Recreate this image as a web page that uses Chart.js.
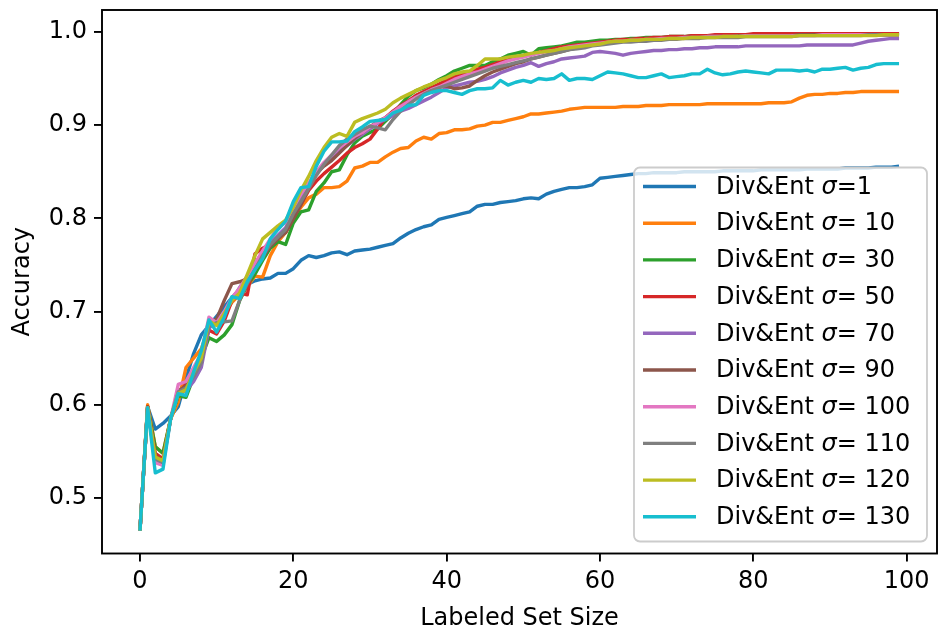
<!DOCTYPE html>
<html>
<head>
<meta charset="utf-8">
<script src="https://cdn.jsdelivr.net/npm/chart.js@4.4.1/dist/chart.umd.min.js"></script>
<style>
  html, body { margin: 0; padding: 0; background: #fff; }
  #wrap { width: 939px; height: 629px; }
</style>
</head>
<body>
<div id="wrap"><canvas id="accChart" width="939" height="629"></canvas></div>
<script>
// ===== Data =====
const setSizes = Array.from({ length: 100 }, (_, i) => i);
const xTicks = [0, 20, 40, 60, 80, 100];
const yTicks = [0.5, 0.6, 0.7, 0.8, 0.9, 1.0];

const seriesLabels = ['Div&Ent σ=1', 'Div&Ent σ= 10', 'Div&Ent σ= 30', 'Div&Ent σ= 50', 'Div&Ent σ= 70',
  'Div&Ent σ= 90', 'Div&Ent σ= 100', 'Div&Ent σ= 110', 'Div&Ent σ= 120', 'Div&Ent σ= 130'];

const sigma1 = [
  0.465, 0.598, 0.574, 0.580, 0.588, 0.598, 0.628, 0.655, 0.675, 0.685,
  0.695, 0.705, 0.715, 0.724, 0.729, 0.733, 0.735, 0.736, 0.741, 0.741,
  0.746, 0.755, 0.760, 0.758, 0.760, 0.763, 0.764, 0.761, 0.765, 0.766,
  0.767, 0.769, 0.771, 0.773, 0.779, 0.784, 0.788, 0.791, 0.793, 0.799,
  0.801, 0.803, 0.805, 0.807, 0.813, 0.815, 0.815, 0.817, 0.818, 0.819,
  0.821, 0.822, 0.821, 0.826, 0.829, 0.831, 0.833, 0.833, 0.834, 0.836,
  0.843, 0.844, 0.845, 0.846, 0.847, 0.848, 0.848, 0.849, 0.849, 0.849,
  0.849, 0.850, 0.850, 0.850, 0.850, 0.850, 0.851, 0.851, 0.851, 0.851,
  0.851, 0.852, 0.852, 0.852, 0.852, 0.852, 0.852, 0.853, 0.853, 0.853,
  0.853, 0.853, 0.854, 0.854, 0.854, 0.854, 0.855, 0.855, 0.855, 0.856
];
const sigma10 = [
  0.465, 0.600, 0.555, 0.548, 0.585, 0.603, 0.640, 0.650, 0.660, 0.683,
  0.688, 0.698, 0.710, 0.718, 0.727, 0.738, 0.737, 0.760, 0.775, 0.785,
  0.800, 0.812, 0.822, 0.826, 0.833, 0.833, 0.834, 0.840, 0.854, 0.856,
  0.860, 0.860, 0.866, 0.871, 0.875, 0.876, 0.883, 0.887, 0.885, 0.891,
  0.892, 0.895, 0.895, 0.896, 0.899, 0.900, 0.903, 0.903, 0.905, 0.907,
  0.909, 0.912, 0.912, 0.913, 0.914, 0.915, 0.917, 0.918, 0.919, 0.919,
  0.919, 0.919, 0.919, 0.920, 0.920, 0.920, 0.921, 0.921, 0.921, 0.922,
  0.922, 0.922, 0.922, 0.922, 0.923, 0.923, 0.923, 0.923, 0.923, 0.923,
  0.923, 0.923, 0.924, 0.924, 0.924, 0.925, 0.929, 0.932, 0.933, 0.933,
  0.934, 0.934, 0.935, 0.935, 0.936, 0.936, 0.936, 0.936, 0.936, 0.936
];
const sigma30 = [
  0.465, 0.598, 0.555, 0.548, 0.585, 0.610, 0.608, 0.630, 0.650, 0.672,
  0.668, 0.675, 0.686, 0.712, 0.728, 0.740, 0.755, 0.768, 0.775, 0.772,
  0.795, 0.807, 0.809, 0.829, 0.838, 0.850, 0.852, 0.868, 0.881, 0.888,
  0.892, 0.896, 0.904, 0.912, 0.922, 0.931, 0.937, 0.940, 0.944, 0.949,
  0.953, 0.958, 0.961, 0.964, 0.964, 0.964, 0.968, 0.971, 0.975, 0.977,
  0.979, 0.975, 0.982, 0.983, 0.984, 0.985, 0.987, 0.989, 0.989, 0.990,
  0.991, 0.991, 0.992, 0.992, 0.993, 0.993, 0.994, 0.994, 0.994, 0.995,
  0.995, 0.995, 0.996, 0.996, 0.996, 0.996, 0.997, 0.997, 0.997, 0.997,
  0.997, 0.997, 0.997, 0.997, 0.997, 0.997, 0.997, 0.998, 0.998, 0.998,
  0.998, 0.998, 0.998, 0.998, 0.998, 0.998, 0.998, 0.998, 0.998, 0.998
];
const sigma50 = [
  0.465, 0.598, 0.548, 0.542, 0.585, 0.612, 0.622, 0.638, 0.652, 0.680,
  0.676, 0.690, 0.712, 0.720, 0.718, 0.762, 0.768, 0.772, 0.780, 0.785,
  0.800, 0.815, 0.830, 0.840, 0.848, 0.855, 0.862, 0.870, 0.876, 0.880,
  0.885, 0.896, 0.908, 0.915, 0.921, 0.926, 0.932, 0.936, 0.940, 0.944,
  0.948, 0.952, 0.955, 0.957, 0.960, 0.962, 0.965, 0.968, 0.970, 0.972,
  0.974, 0.976, 0.978, 0.980, 0.982, 0.984, 0.985, 0.986, 0.987, 0.988,
  0.989, 0.990, 0.991, 0.992, 0.992, 0.993, 0.993, 0.994, 0.994, 0.995,
  0.995, 0.995, 0.996, 0.996, 0.996, 0.997, 0.997, 0.997, 0.997, 0.997,
  0.998, 0.998, 0.998, 0.998, 0.998, 0.998, 0.998, 0.998, 0.998, 0.998,
  0.998, 0.998, 0.998, 0.998, 0.998, 0.998, 0.998, 0.998, 0.998, 0.998
];
const sigma70 = [
  0.465, 0.596, 0.540, 0.537, 0.585, 0.612, 0.615, 0.625, 0.640, 0.682,
  0.690, 0.698, 0.712, 0.726, 0.738, 0.750, 0.764, 0.774, 0.782, 0.790,
  0.808, 0.822, 0.835, 0.848, 0.858, 0.866, 0.872, 0.878, 0.885, 0.890,
  0.896, 0.902, 0.906, 0.910, 0.915, 0.918, 0.922, 0.926, 0.930, 0.935,
  0.940, 0.942, 0.944, 0.946, 0.947, 0.949, 0.952, 0.956, 0.959, 0.962,
  0.964, 0.967, 0.963, 0.966, 0.968, 0.971, 0.972, 0.973, 0.974, 0.978,
  0.979, 0.978, 0.977, 0.975, 0.977, 0.978, 0.979, 0.980, 0.980, 0.981,
  0.981, 0.982, 0.982, 0.983, 0.983, 0.984, 0.984, 0.984, 0.984, 0.985,
  0.985, 0.985, 0.985, 0.985, 0.985, 0.985, 0.985, 0.986, 0.986, 0.986,
  0.986, 0.986, 0.986, 0.986, 0.988, 0.990, 0.991, 0.992, 0.993, 0.993
];
const sigma90 = [
  0.465, 0.597, 0.545, 0.540, 0.585, 0.615, 0.620, 0.632, 0.648, 0.688,
  0.692, 0.712, 0.730, 0.732, 0.735, 0.745, 0.758, 0.770, 0.778, 0.785,
  0.800, 0.815, 0.832, 0.848, 0.856, 0.862, 0.870, 0.878, 0.886, 0.892,
  0.898, 0.904, 0.908, 0.914, 0.920, 0.925, 0.930, 0.934, 0.938, 0.941,
  0.942, 0.939, 0.940, 0.942, 0.948, 0.953, 0.957, 0.960, 0.963, 0.966,
  0.968, 0.971, 0.973, 0.975, 0.977, 0.979, 0.981, 0.983, 0.985, 0.986,
  0.987, 0.988, 0.989, 0.990, 0.990, 0.991, 0.991, 0.992, 0.992, 0.993,
  0.993, 0.994, 0.994, 0.994, 0.995, 0.995, 0.995, 0.995, 0.996, 0.996,
  0.996, 0.996, 0.996, 0.996, 0.996, 0.996, 0.997, 0.997, 0.997, 0.997,
  0.997, 0.997, 0.997, 0.997, 0.997, 0.997, 0.997, 0.997, 0.997, 0.997
];
const sigma100 = [
  0.465, 0.597, 0.538, 0.535, 0.585, 0.622, 0.625, 0.640, 0.655, 0.694,
  0.688, 0.700, 0.715, 0.725, 0.738, 0.752, 0.765, 0.778, 0.790, 0.796,
  0.812, 0.826, 0.838, 0.850, 0.860, 0.868, 0.876, 0.882, 0.888, 0.892,
  0.898, 0.903, 0.908, 0.914, 0.920, 0.925, 0.930, 0.934, 0.938, 0.941,
  0.945, 0.949, 0.952, 0.955, 0.957, 0.960, 0.963, 0.966, 0.969, 0.971,
  0.973, 0.975, 0.977, 0.979, 0.980, 0.982, 0.984, 0.985, 0.986, 0.987,
  0.988, 0.989, 0.990, 0.990, 0.991, 0.991, 0.992, 0.992, 0.993, 0.993,
  0.993, 0.994, 0.994, 0.994, 0.995, 0.995, 0.995, 0.995, 0.995, 0.996,
  0.996, 0.996, 0.996, 0.996, 0.996, 0.996, 0.996, 0.996, 0.996, 0.997,
  0.997, 0.997, 0.997, 0.997, 0.997, 0.997, 0.997, 0.997, 0.997, 0.997
];
const sigma110 = [
  0.465, 0.596, 0.542, 0.538, 0.585, 0.614, 0.618, 0.630, 0.645, 0.685,
  0.688, 0.689, 0.690, 0.712, 0.730, 0.745, 0.760, 0.772, 0.780, 0.788,
  0.805, 0.818, 0.832, 0.846, 0.858, 0.868, 0.878, 0.885, 0.890, 0.895,
  0.899, 0.897, 0.895, 0.906, 0.915, 0.922, 0.928, 0.933, 0.937, 0.940,
  0.943, 0.946, 0.949, 0.952, 0.955, 0.958, 0.961, 0.963, 0.965, 0.967,
  0.969, 0.971, 0.973, 0.975, 0.977, 0.979, 0.981, 0.982, 0.983, 0.985,
  0.986, 0.987, 0.988, 0.989, 0.989, 0.990, 0.990, 0.991, 0.991, 0.992,
  0.992, 0.993, 0.993, 0.993, 0.994, 0.994, 0.994, 0.994, 0.994, 0.995,
  0.995, 0.995, 0.995, 0.995, 0.995, 0.995, 0.996, 0.996, 0.996, 0.996,
  0.996, 0.996, 0.996, 0.996, 0.996, 0.997, 0.997, 0.997, 0.997, 0.997
];
const sigma120 = [
  0.465, 0.597, 0.544, 0.540, 0.585, 0.612, 0.616, 0.635, 0.650, 0.690,
  0.685, 0.698, 0.712, 0.720, 0.740, 0.760, 0.778, 0.785, 0.792, 0.798,
  0.812, 0.830, 0.845, 0.862, 0.876, 0.887, 0.891, 0.888, 0.903, 0.907,
  0.910, 0.913, 0.917, 0.924, 0.929, 0.933, 0.937, 0.941, 0.944, 0.948,
  0.951, 0.955, 0.957, 0.958, 0.964, 0.971, 0.971, 0.971, 0.973, 0.974,
  0.975, 0.977, 0.978, 0.979, 0.980, 0.982, 0.983, 0.984, 0.985, 0.986,
  0.987, 0.989, 0.990, 0.990, 0.991, 0.991, 0.992, 0.992, 0.992, 0.993,
  0.993, 0.993, 0.994, 0.994, 0.994, 0.994, 0.995, 0.995, 0.995, 0.995,
  0.995, 0.995, 0.995, 0.995, 0.995, 0.995, 0.996, 0.996, 0.996, 0.996,
  0.996, 0.996, 0.996, 0.996, 0.996, 0.996, 0.996, 0.997, 0.997, 0.997
];
const sigma130 = [
  0.465, 0.597, 0.527, 0.531, 0.585, 0.612, 0.610, 0.635, 0.658, 0.691,
  0.678, 0.694, 0.716, 0.714, 0.732, 0.745, 0.757, 0.778, 0.788, 0.797,
  0.818, 0.833, 0.834, 0.856, 0.872, 0.882, 0.882, 0.883, 0.893, 0.898,
  0.904, 0.905, 0.906, 0.913, 0.916, 0.921, 0.922, 0.932, 0.935, 0.937,
  0.937, 0.935, 0.933, 0.937, 0.939, 0.939, 0.940, 0.948, 0.943, 0.946,
  0.948, 0.946, 0.950, 0.949, 0.950, 0.955, 0.948, 0.950, 0.950, 0.949,
  0.953, 0.957, 0.956, 0.955, 0.953, 0.951, 0.951, 0.953, 0.955, 0.951,
  0.952, 0.953, 0.955, 0.955, 0.960, 0.956, 0.954, 0.955, 0.957, 0.958,
  0.957, 0.956, 0.955, 0.959, 0.959, 0.959, 0.958, 0.959, 0.957, 0.960,
  0.960, 0.961, 0.962, 0.959, 0.961, 0.962, 0.965, 0.966, 0.966, 0.966
];

const allSeries = [sigma1, sigma10, sigma30, sigma50, sigma70, sigma90, sigma100, sigma110, sigma120, sigma130];

// matplotlib tab10
const palette = ['#1f77b4', '#ff7f0e', '#2ca02c', '#d62728', '#9467bd',
  '#8c564b', '#e377c2', '#7f7f7f', '#bcbd22', '#17becf'];

const FONT = "'DejaVu Sans', sans-serif";
const LINE_W = 3.4;
const AXIS_W = 1.9;

Chart.defaults.font.family = FONT;
Chart.defaults.color = '#000';

// ===== Plugins =====
// full box around the plot area, like matplotlib spines
const frameBox = {
  id: 'frameBox',
  afterDatasetsDraw(chart) {
    const { ctx, chartArea: a } = chart;
    ctx.save();
    ctx.strokeStyle = '#000';
    ctx.lineWidth = AXIS_W;
    ctx.strokeRect(a.left, a.top, a.right - a.left, a.bottom - a.top);
    ctx.restore();
  }
};

// legend inside the axes, lower right
const boxLegend = {
  id: 'boxLegend',
  afterDraw(chart) {
    const { ctx, chartArea: a } = chart;
    const w = 293, h = 374;
    const x0 = a.right - 10 - w, y0 = a.bottom - 12 - h;
    const rowGap = 36.7;
    ctx.save();
    ctx.beginPath();
    ctx.roundRect(x0, y0, w, h, 6);
    ctx.fillStyle = 'rgba(255,255,255,0.8)';
    ctx.fill();
    ctx.strokeStyle = '#cccccc';
    ctx.lineWidth = 1.8;
    ctx.stroke();

    ctx.textBaseline = 'middle';
    seriesLabels.forEach((label, i) => {
      const y = y0 + 19 + i * rowGap;
      ctx.strokeStyle = palette[i];
      ctx.lineWidth = LINE_W;
      ctx.beginPath();
      ctx.moveTo(x0 + 9, y);
      ctx.lineTo(x0 + 62, y);
      ctx.stroke();

      const [head, tail] = label.split('σ');
      let tx = x0 + 82;
      ctx.fillStyle = '#000';
      ctx.font = '24px ' + FONT;
      ctx.fillText(head, tx, y + 1);
      tx += ctx.measureText(head).width;
      ctx.font = 'oblique 24px ' + FONT;
      ctx.fillText('σ', tx, y + 1);
      tx += ctx.measureText('σ').width;
      ctx.font = '24px ' + FONT;
      ctx.fillText(tail, tx, y + 1);
    });
    ctx.restore();
  }
};

// ===== Chart =====
const ctx = document.getElementById('accChart').getContext('2d');
new Chart(ctx, {
  type: 'line',
  data: {
    datasets: allSeries.map((vals, i) => ({
      label: seriesLabels[i],
      data: vals.map((v, j) => ({ x: setSizes[j], y: v })),
      borderColor: palette[i],
      backgroundColor: palette[i],
      borderWidth: LINE_W,
      pointRadius: 0,
      tension: 0,
      fill: false,
      order: allSeries.length - i,
      borderJoinStyle: 'round',
      borderCapStyle: 'butt',
    }))
  },
  plugins: [frameBox, boxLegend],
  options: {
    responsive: false,
    devicePixelRatio: 1,
    animation: false,
    layout: { padding: { top: 10, right: 2, left: 0, bottom: 0 } },
    plugins: {
      legend: { display: false },
      tooltip: { enabled: false },
    },
    scales: {
      x: {
        type: 'linear',
        min: -4.95,
        max: 103.95,
        afterBuildTicks: s => { s.ticks = xTicks.map(v => ({ value: v })); },
        afterFit: s => { s.height = 75.5; s.paddingLeft = 0; s.paddingRight = 0; },
        border: { display: false },
        grid: { drawOnChartArea: false, drawTicks: true, tickLength: 8, lineWidth: AXIS_W, color: '#000' },
        ticks: { font: { size: 24 }, padding: 6, maxRotation: 0, autoSkip: false, callback: v => String(v) },
        title: { display: true, text: 'Labeled Set Size', font: { size: 24 }, padding: { top: 0, bottom: -4 } },
      },
      y: {
        type: 'linear',
        min: 0.4405,
        max: 1.0235,
        afterBuildTicks: s => { s.ticks = yTicks.map(v => ({ value: v })); },
        afterFit: s => { s.width = 102; s.paddingTop = 0; s.paddingBottom = 0; },
        border: { display: false },
        grid: { drawOnChartArea: false, drawTicks: true, tickLength: 8, lineWidth: AXIS_W, color: '#000' },
        ticks: { font: { size: 24 }, padding: 7, autoSkip: false, callback: v => v.toFixed(1) },
        title: { display: true, text: 'Accuracy', font: { size: 24 }, padding: { top: 8, bottom: 0 } },
      }
    }
  }
});
</script>
</body>
</html>
